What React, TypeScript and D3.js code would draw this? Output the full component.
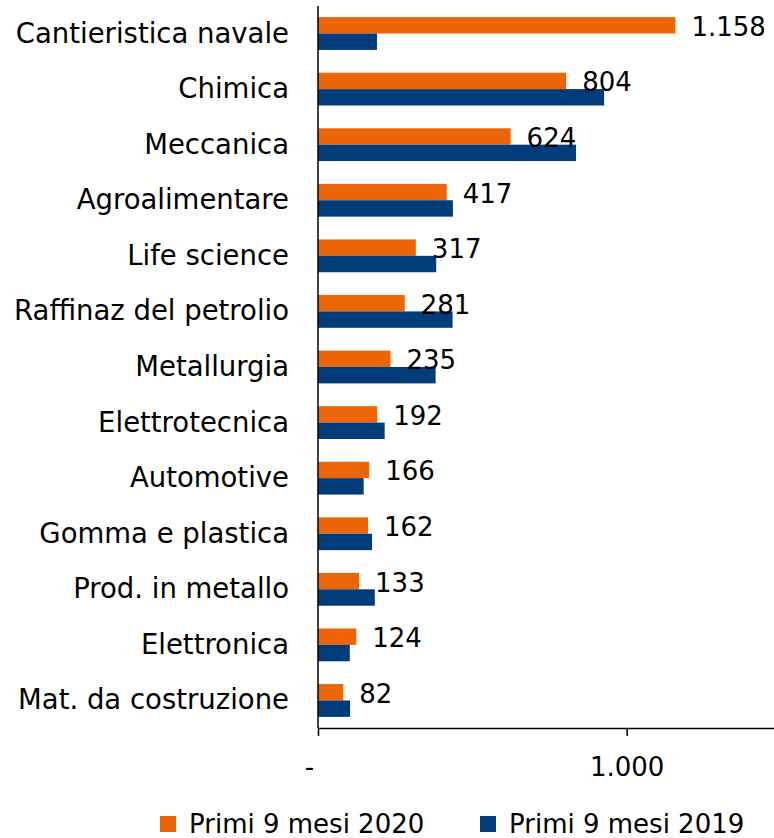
import { useRef, useEffect } from "react";
import * as d3 from "d3";

const categories = [
  "Cantieristica navale",
  "Chimica",
  "Meccanica",
  "Agroalimentare",
  "Life science",
  "Raffinaz del petrolio",
  "Metallurgia",
  "Elettrotecnica",
  "Automotive",
  "Gomma e plastica",
  "Prod. in metallo",
  "Elettronica",
  "Mat. da costruzione",
];
const values2020 = [1158, 804, 624, 417, 317, 281, 235, 192, 166, 162, 133, 124, 82];
const values2019 = [191, 927, 836, 437, 383, 436, 381, 216, 148, 175, 184, 103, 104];
const seriesNames = ["Primi 9 mesi 2020", "Primi 9 mesi 2019"];
const xTicks = [0, 1000];

const W = 774;
const H = 838;
const ORANGE = "#EC6608";
const BLUE = "#003B7A";
const FONT = "'DejaVu Sans', sans-serif";
const FS = 26;

const BarChart = () => {
  const svgRef = useRef<SVGSVGElement>(null);

  useEffect(() => {
    if (!svgRef.current) return;
    const svg = d3.select(svgRef.current);
    svg.selectAll("*").remove();

    //  scales
    const x = d3.scaleLinear().domain([0, 1500]).range([318, 781]);
    const y = d3.scaleBand().domain(categories).range([6, 728]).paddingInner(0.41).paddingOuter(0.2);
    const sub = d3.scaleBand().domain(seriesNames).range([0, y.bandwidth()]);

    const rows = categories.map((c, i) => ({ c, v: [values2020[i], values2019[i]] }));
    const fmt = (v: number) => d3.format(",")(v).replace(/,/g, ".");

    //  bars
    const g = svg.append("g");
    const colors = [ORANGE, BLUE];
    rows.forEach((r) => {
      r.v.forEach((v, j) => {
        g.append("rect")
          .attr("x", x(0))
          .attr("y", (y(r.c) as number) + (sub(seriesNames[j]) as number))
          .attr("width", x(v) - x(0))
          .attr("height", sub.bandwidth())
          .attr("fill", colors[j]);
      });
    });

    //  value labels (2020)
    svg
      .append("g")
      .attr("font-family", FONT)
      .attr("font-size", FS)
      .attr("fill", "#000")
      .selectAll("text")
      .data(rows)
      .join("text")
      .attr("x", (d) => x(d.v[0]) + 16)
      .attr("y", (d) => (y(d.c) as number) + sub.bandwidth() / 2 + 3)
      .attr("dominant-baseline", "middle")
      .text((d) => fmt(d.v[0]));

    //  category labels
    svg
      .append("g")
      .attr("font-family", FONT)
      .attr("font-size", 27.5)
      .attr("fill", "#000")
      .attr("text-anchor", "end")
      .selectAll("text")
      .data(categories)
      .join("text")
      .attr("x", 289)
      .attr("y", (d) => (y(d) as number) + y.bandwidth() / 2 + 1)
      .attr("dominant-baseline", "middle")
      .text((d) => d);

    //  axes
    svg
      .append("line")
      .attr("x1", x(0))
      .attr("x2", x(0))
      .attr("y1", 6)
      .attr("y2", 728)
      .attr("stroke", "#000")
      .attr("stroke-width", 1.5);

    const xAxis = svg
      .append("g")
      .attr("transform", "translate(0,728)")
      .call(
        d3
          .axisBottom(x)
          .tickValues(xTicks)
          .tickSize(8)
          .tickSizeOuter(0)
          .tickFormat((d) => (+d === 0 ? "-" : fmt(+d)))
      );
    xAxis.select(".domain").attr("stroke", "#000").attr("stroke-width", 1.5);
    xAxis.selectAll(".tick line").attr("stroke", "#000").attr("stroke-width", 1.5);
    xAxis
      .selectAll(".tick text")
      .attr("font-family", FONT)
      .attr("font-size", FS)
      .attr("fill", "#000")
      .attr("y", 30)
      .attr("dx", (d: any) => (d === 0 ? -9 : 0));

    //  legend
    const legend = svg.append("g").attr("font-family", FONT).attr("font-size", FS);
    const legX = [160, 480];
    seriesNames.forEach((s, i) => {
      legend
        .append("rect")
        .attr("x", legX[i])
        .attr("y", 816)
        .attr("width", 16)
        .attr("height", 16)
        .attr("fill", colors[i]);
      legend
        .append("text")
        .attr("x", legX[i] + 29)
        .attr("y", 833)
        .attr("fill", "#000")
        .text(s);
    });
  }, []);

  return <svg ref={svgRef} width={W} height={H} style={{ display: "block" }} />;
};

export default function App() {
  return (
    <div style={{ position: "fixed", left: 0, top: 0, width: W, height: H, overflow: "hidden", background: "#fff" }}>
      <BarChart />
    </div>
  );
}
